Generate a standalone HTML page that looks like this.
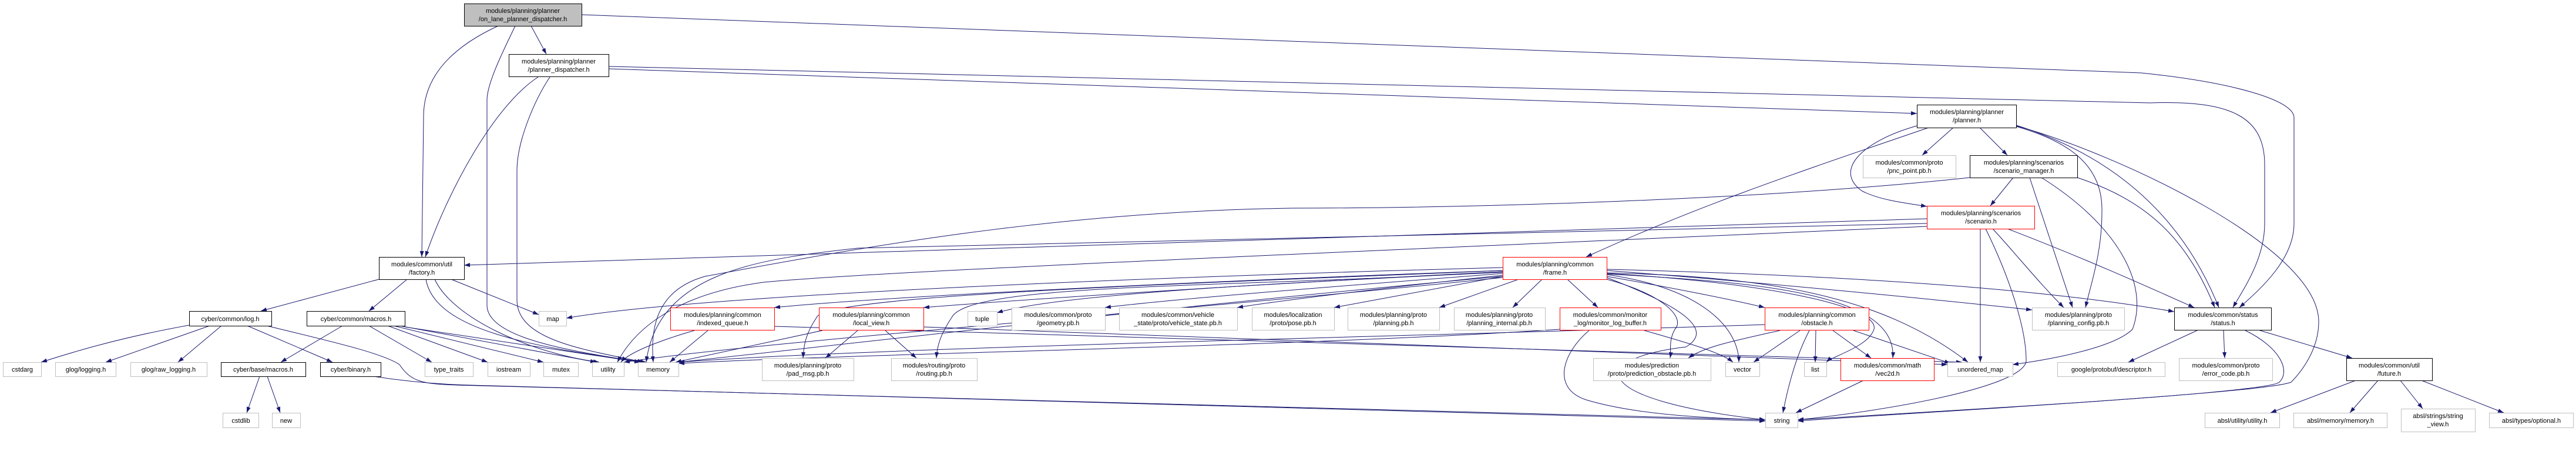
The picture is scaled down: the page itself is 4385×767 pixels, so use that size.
<!DOCTYPE html>
<html><head><meta charset="utf-8"><style>
html,body{margin:0;padding:0;background:#fff;}
svg{display:block;}
text{font-family:"Liberation Sans",sans-serif;font-size:11px;fill:#000;text-anchor:middle;}
.e{fill:none;stroke:#191970;stroke-width:1;marker-end:url(#a);}
.b{fill:#fff;stroke:#000;stroke-width:1;}
.g{fill:#fff;stroke:#bfbfbf;stroke-width:1;}
.r{fill:#fff;stroke:#ff0000;stroke-width:1;}
.s{fill:#bfbfbf;stroke:#000;stroke-width:1;}
</style></head><body>
<svg width="4385" height="767" viewBox="0 0 4385 767" xmlns="http://www.w3.org/2000/svg">
<defs><marker id="a" markerUnits="userSpaceOnUse" markerWidth="11" markerHeight="8" refX="10" refY="3.5" orient="auto"><path d="M0,0 L10,3.5 L0,7 z" fill="#191970"/></marker></defs>
<g>
<path class="e" d="M904,44 L930,92"/>
<path class="e" d="M848,44 C770,80 720,130 721,200 L718,437"/>
<path class="e" d="M916,131 C840,180 760,330 724,437"/>
<path class="e" d="M877,44 C860,80 829,140 829,170 L829,519 C829,580 1000,600 1090,616"/>
<path class="e" d="M936,131 C910,170 880,240 880,290 L880,510 C880,580 1000,595 1095,616"/>
<path class="e" d="M990,25 L3645,124 C3800,140 3905,170 3905,200 L3905,380 C3905,440 3850,490 3812,523"/>
<path class="e" d="M1036,113 L3660,175 C3800,170 3855,200 3855,280 L3855,380 C3855,440 3820,490 3801,523"/>
<path class="e" d="M1036,117 L3263,193"/>
<path class="e" d="M3325,217 L3272,264"/>
<path class="e" d="M3370,217 L3417,264"/>
<path class="e" d="M3263,214 C3170,240 3120,290 3170,325 C3200,340 3240,345 3280,351"/>
<path class="e" d="M3283,217 C3100,280 2900,345 2700,437"/>
<path class="e" d="M3432,215 C3520,240 3580,280 3578,360 C3578,430 3560,480 3550,523"/>
<path class="e" d="M3432,213 C3550,250 3700,330 3777,523"/>
<path class="e" d="M3432,214 C3600,260 3947,420 3947,547 C3947,600 3910,640 3900,650 C3850,670 3200,705 3060,714"/>
<path class="e" d="M3427,302 L3388,350"/>
<path class="e" d="M3455,302 L3528,523"/>
<path class="e" d="M3475,302 C3600,380 3660,480 3630,560 C3600,590 3500,610 3426,620"/>
<path class="e" d="M3536,302 C3650,340 3720,400 3770,523"/>
<path class="e" d="M3353,302 C3000,340 2500,354 2200,354 C1800,360 1470,420 1200,470 C1130,490 1105,540 1112,616"/>
<path class="e" d="M3371,389 L3371,616"/>
<path class="e" d="M3392,389 C3430,430 3470,480 3513,523"/>
<path class="e" d="M3380,389 C3420,470 3450,560 3449,615 C3440,660 3200,700 3060,714"/>
<path class="e" d="M3417,389 C3550,440 3650,485 3735,523"/>
<path class="e" d="M3280,372 L790,451"/>
<path class="e" d="M3280,380 C2500,400 1800,410 1460,422 C1300,440 1120,460 1100,616"/>
<path class="e" d="M3280,385 C2500,420 1500,460 1300,480 C1150,500 1080,560 1051,616"/>
<path class="e" d="M2558,455 C2000,470 1200,500 964,541"/>
<path class="e" d="M2558,460 C2000,480 1500,505 1318,523"/>
<path class="e" d="M2558,462 C2200,480 1800,505 1572,523"/>
<path class="e" d="M2558,463 C2200,480 1800,500 1697,532"/>
<path class="e" d="M2558,465 C2300,485 2000,508 1881,523"/>
<path class="e" d="M2558,468 C2400,485 2200,508 2106,523"/>
<path class="e" d="M2558,470 L2271,523"/>
<path class="e" d="M2585,475 L2450,523"/>
<path class="e" d="M2625,475 L2575,523"/>
<path class="e" d="M2668,475 L2720,523"/>
<path class="e" d="M2735,475 C2830,500 2870,540 2851,560 C2840,580 2845,595 2843,609"/>
<path class="e" d="M2735,470 C2850,490 2950,510 3004,523"/>
<path class="e" d="M2735,460 C3000,480 3300,510 3459,527"/>
<path class="e" d="M2735,458 C3200,470 3500,495 3701,530"/>
<path class="e" d="M2735,467 C2900,490 2960,560 2960,616"/>
<path class="e" d="M2735,465 C3000,480 3200,520 3190,560 C3180,590 3120,605 3109,616"/>
<path class="e" d="M2735,466 C3000,480 3230,500 3222,609"/>
<path class="e" d="M2735,464 C3000,470 3200,500 3350,616"/>
<path class="e" d="M2735,472 C2860,520 2920,560 2870,590 C2700,610 2700,680 3005,714"/>
<path class="e" d="M2558,470 C2000,520 1400,590 1155,616"/>
<path class="e" d="M2558,472 C2000,530 1300,580 1062,616"/>
<path class="e" d="M2558,462 C2100,490 1650,480 1620,540 C1600,570 1595,590 1594,609"/>
<path class="e" d="M2558,460 C2100,480 1400,500 1390,540 C1370,570 1368,590 1367,609"/>
<path class="e" d="M645,475 L444,529"/>
<path class="e" d="M693,475 L628,529"/>
<path class="e" d="M768,475 L917,535"/>
<path class="e" d="M740,475 C770,540 900,600 1020,616"/>
<path class="e" d="M725,475 C740,560 900,590 1100,616"/>
<path class="e" d="M322,553 C200,575 120,600 70,616"/>
<path class="e" d="M357,554 L180,616"/>
<path class="e" d="M377,554 L303,616"/>
<path class="e" d="M421,554 L566,616"/>
<path class="e" d="M454,554 C560,580 650,600 680,620 C700,650 720,653 780,655 L3005,714"/>
<path class="e" d="M583,554 L478,616"/>
<path class="e" d="M628,554 L735,616"/>
<path class="e" d="M660,554 L830,616"/>
<path class="e" d="M670,554 L925,616"/>
<path class="e" d="M680,554 L1015,616"/>
<path class="e" d="M689,556 L1090,616"/>
<path class="e" d="M442,640 L420,702"/>
<path class="e" d="M455,640 L477,702"/>
<path class="e" d="M635,640 C700,650 760,654 800,655 L3005,716"/>
<path class="e" d="M1182,562 C1120,580 1070,600 1057,616"/>
<path class="e" d="M1205,562 L1140,616"/>
<path class="e" d="M1318,555 L3340,616"/>
<path class="e" d="M1460,562 L1405,609"/>
<path class="e" d="M1507,562 L1560,609"/>
<path class="e" d="M1400,562 L1150,616"/>
<path class="e" d="M1572,556 L3315,620"/>
<path class="e" d="M2705,562 C2660,600 2640,660 2700,680 C2800,710 2950,712 3005,714"/>
<path class="e" d="M2655,560 C2200,590 1500,600 1155,618"/>
<path class="e" d="M2799,562 C2880,585 2930,600 2950,616"/>
<path class="e" d="M3064,562 L2985,616"/>
<path class="e" d="M3091,562 L3090,616"/>
<path class="e" d="M3120,562 L3185,609"/>
<path class="e" d="M3080,562 C3060,600 3045,650 3035,702"/>
<path class="e" d="M3155,562 L3320,618"/>
<path class="e" d="M3030,562 C2950,580 2900,590 2874,609"/>
<path class="e" d="M3004,552 C2500,570 1500,590 1155,616"/>
<path class="e" d="M3172,647 L3057,702"/>
<path class="e" d="M3740,562 L3623,616"/>
<path class="e" d="M3785,562 L3787,609"/>
<path class="e" d="M3822,562 C3880,590 3900,630 3880,650 C3860,670 3200,705 3060,716"/>
<path class="e" d="M3847,562 L4004,609"/>
<path class="e" d="M4010,647 L3865,702"/>
<path class="e" d="M4048,647 L4000,702"/>
<path class="e" d="M4086,647 L4124,695"/>
<path class="e" d="M4122,647 L4262,702"/>
</g>
<g>
<rect class="s" x="790.5" y="6.5" width="200" height="38"/><text x="890" y="22">modules/planning/planner</text><text x="890" y="36">/on_lane_planner_dispatcher.h</text>
<rect class="b" x="866.5" y="92.5" width="170" height="38"/><text x="951" y="108">modules/planning/planner</text><text x="951" y="122">/planner_dispatcher.h</text>
<rect class="b" x="645.5" y="437.5" width="145" height="38"/><text x="718" y="453">modules/common/util</text><text x="718" y="467">/factory.h</text>
<rect class="b" x="322.5" y="529.5" width="140" height="25"/><text x="392" y="546">cyber/common/log.h</text>
<rect class="b" x="522.5" y="529.5" width="167" height="25"/><text x="606" y="546">cyber/common/macros.h</text>
<rect class="g" x="5.5" y="616.5" width="65" height="24"/><text x="38" y="632">cstdarg</text>
<rect class="g" x="94.5" y="616.5" width="103" height="24"/><text x="146" y="632">glog/logging.h</text>
<rect class="g" x="222.5" y="616.5" width="130" height="24"/><text x="287" y="632">glog/raw_logging.h</text>
<rect class="b" x="376.5" y="616.5" width="144" height="24"/><text x="448" y="632">cyber/base/macros.h</text>
<rect class="b" x="545.5" y="616.5" width="103" height="24"/><text x="597" y="632">cyber/binary.h</text>
<rect class="g" x="723.5" y="616.5" width="82" height="24"/><text x="764" y="632">type_traits</text>
<rect class="g" x="830.5" y="616.5" width="72" height="24"/><text x="866" y="632">iostream</text>
<rect class="g" x="925.5" y="616.5" width="59" height="24"/><text x="955" y="632">mutex</text>
<rect class="g" x="1008.5" y="616.5" width="54" height="24"/><text x="1035" y="632">utility</text>
<rect class="g" x="1086.5" y="616.5" width="69" height="24"/><text x="1120" y="632">memory</text>
<rect class="g" x="379.5" y="702.5" width="61" height="25"/><text x="410" y="719">cstdlib</text>
<rect class="g" x="463.5" y="702.5" width="48" height="25"/><text x="487" y="719">new</text>
<rect class="g" x="917.5" y="529.5" width="47" height="25"/><text x="941" y="546">map</text>
<rect class="r" x="1141.5" y="523.5" width="177" height="38"/><text x="1230" y="539">modules/planning/common</text><text x="1230" y="553">/indexed_queue.h</text>
<rect class="r" x="1394.5" y="523.5" width="178" height="38"/><text x="1483" y="539">modules/planning/common</text><text x="1483" y="553">/local_view.h</text>
<rect class="g" x="1297.5" y="609.5" width="156" height="38"/><text x="1375" y="625">modules/planning/proto</text><text x="1375" y="639">/pad_msg.pb.h</text>
<rect class="g" x="1517.5" y="609.5" width="146" height="38"/><text x="1590" y="625">modules/routing/proto</text><text x="1590" y="639">/routing.pb.h</text>
<rect class="g" x="1647.5" y="529.5" width="50" height="25"/><text x="1672" y="546">tuple</text>
<rect class="g" x="1722.5" y="523.5" width="159" height="38"/><text x="1801" y="539">modules/common/proto</text><text x="1801" y="553">/geometry.pb.h</text>
<rect class="g" x="1905.5" y="523.5" width="201" height="38"/><text x="2005" y="539">modules/common/vehicle</text><text x="2005" y="553">_state/proto/vehicle_state.pb.h</text>
<rect class="g" x="2131.5" y="523.5" width="140" height="38"/><text x="2201" y="539">modules/localization</text><text x="2201" y="553">/proto/pose.pb.h</text>
<rect class="g" x="2294.5" y="523.5" width="156" height="38"/><text x="2372" y="539">modules/planning/proto</text><text x="2372" y="553">/planning.pb.h</text>
<rect class="g" x="2475.5" y="523.5" width="155" height="38"/><text x="2552" y="539">modules/planning/proto</text><text x="2552" y="553">/planning_internal.pb.h</text>
<rect class="r" x="2655.5" y="523.5" width="172" height="38"/><text x="2741" y="539">modules/common/monitor</text><text x="2741" y="553">_log/monitor_log_buffer.h</text>
<rect class="r" x="2558.5" y="437.5" width="177" height="38"/><text x="2647" y="453">modules/planning/common</text><text x="2647" y="467">/frame.h</text>
<rect class="g" x="2712.5" y="609.5" width="200" height="38"/><text x="2812" y="625">modules/prediction</text><text x="2812" y="639">/proto/prediction_obstacle.pb.h</text>
<rect class="b" x="3263.5" y="178.5" width="169" height="39"/><text x="3348" y="194">modules/planning/planner</text><text x="3348" y="208">/planner.h</text>
<rect class="g" x="3171.5" y="264.5" width="158" height="38"/><text x="3250" y="280">modules/common/proto</text><text x="3250" y="294">/pnc_point.pb.h</text>
<rect class="b" x="3353.5" y="264.5" width="183" height="38"/><text x="3445" y="280">modules/planning/scenarios</text><text x="3445" y="294">/scenario_manager.h</text>
<rect class="r" x="3280.5" y="350.5" width="183" height="39"/><text x="3372" y="366">modules/planning/scenarios</text><text x="3372" y="380">/scenario.h</text>
<rect class="r" x="3004.5" y="523.5" width="177" height="38"/><text x="3093" y="539">modules/planning/common</text><text x="3093" y="553">/obstacle.h</text>
<rect class="g" x="3459.5" y="523.5" width="157" height="38"/><text x="3538" y="539">modules/planning/proto</text><text x="3538" y="553">/planning_config.pb.h</text>
<rect class="g" x="2937.5" y="616.5" width="58" height="24"/><text x="2966" y="632">vector</text>
<rect class="g" x="3071.5" y="616.5" width="38" height="24"/><text x="3090" y="632">list</text>
<rect class="r" x="3133.5" y="609.5" width="159" height="38"/><text x="3213" y="625">modules/common/math</text><text x="3213" y="639">/vec2d.h</text>
<rect class="g" x="3315.5" y="616.5" width="111" height="24"/><text x="3371" y="632">unordered_map</text>
<rect class="g" x="3502.5" y="616.5" width="183" height="24"/><text x="3594" y="632">google/protobuf/descriptor.h</text>
<rect class="g" x="3005.5" y="702.5" width="55" height="25"/><text x="3033" y="719">string</text>
<rect class="b" x="3701.5" y="523.5" width="165" height="38"/><text x="3784" y="539">modules/common/status</text><text x="3784" y="553">/status.h</text>
<rect class="g" x="3709.5" y="609.5" width="159" height="38"/><text x="3789" y="625">modules/common/proto</text><text x="3789" y="639">/error_code.pb.h</text>
<rect class="b" x="3994.5" y="609.5" width="146" height="38"/><text x="4067" y="625">modules/common/util</text><text x="4067" y="639">/future.h</text>
<rect class="g" x="3753.5" y="702.5" width="127" height="25"/><text x="3817" y="719">absl/utility/utility.h</text>
<rect class="g" x="3904.5" y="702.5" width="159" height="25"/><text x="3984" y="719">absl/memory/memory.h</text>
<rect class="g" x="4087.5" y="695.5" width="126" height="39"/><text x="4150" y="711">absl/strings/string</text><text x="4150" y="725">_view.h</text>
<rect class="g" x="4237.5" y="702.5" width="143" height="25"/><text x="4309" y="719">absl/types/optional.h</text>
</g>
</svg>
</body></html>
